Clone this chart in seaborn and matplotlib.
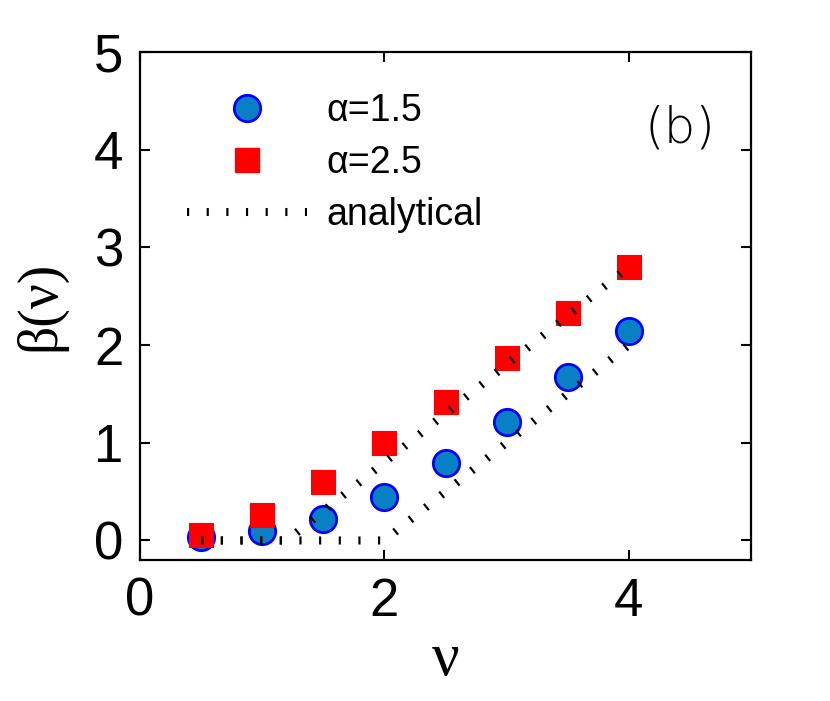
import numpy as np
import pandas as pd
import matplotlib
matplotlib.use("Agg")
import matplotlib.pyplot as plt
from matplotlib.lines import Line2D
import seaborn as sns

# data
nu = [0.5, 1.0, 1.5, 2.0, 2.5, 3.0, 3.5, 4.0]
beta_a15 = [0.04, 0.095, 0.22, 0.45, 0.79, 1.21, 1.67, 2.14]
beta_a25 = [0.06, 0.26, 0.595, 1.0, 1.42, 1.87, 2.33, 2.80]

# analytical curves (breakpoints)
nu_an15 = [0.5, 2.0, 4.0]
beta_an15 = [0.0, 0.0, 2.0]
nu_an25 = [0.5, 1.2, 4.0]
beta_an25 = [0.0, 0.0, 2.8]

sns.set_style("white")
plt.rcParams['font.family'] = ['Liberation Sans', 'DejaVu Sans']
plt.rcParams.update({"text.color": "black", "axes.labelcolor": "black",
                     "xtick.color": "black", "ytick.color": "black",
                     "xtick.direction": "in", "ytick.direction": "in",
                     "xtick.top": True, "ytick.right": True})

fig = plt.figure(figsize=(8.3, 7.01), dpi=100)
ax = fig.add_axes([0.1687, 0.2011, 0.7361, 0.7247])

circ_face = "#0a80c4"
circ_edge = "#0000ff"
sq_col = "#ff0000"

sns.scatterplot(x=nu, y=beta_a15, ax=ax, marker="o", s=360, color=circ_face,
                edgecolor=circ_edge, linewidth=2.0, zorder=3)
sns.scatterplot(x=nu, y=beta_a25, ax=ax, marker="s", s=290, color=sq_col,
                edgecolor=sq_col, linewidth=0.8, zorder=4)

dot_style = (0, (0.27, 2.17))
for xs, ys in [(nu_an15, beta_an15), (nu_an25, beta_an25)]:
    df = pd.DataFrame({"nu": xs, "beta": ys})
    sns.lineplot(data=df, x="nu", y="beta", ax=ax, sort=False, estimator=None,
                 color="black", linewidth=5.8, linestyle=dot_style,
                 dash_capstyle="butt", zorder=5)

ax.set_xlim(0, 5)
ax.set_ylim(-0.2, 5)
ax.set_xticks([0, 2, 4])
ax.set_yticks([0, 1, 2, 3, 4, 5])
ax.tick_params(axis="both", which="both", direction="in", length=7, width=1.5,
               labelsize=38, top=True, right=True, bottom=True, left=True, pad=12)
for sp in ax.spines.values():
    sp.set_linewidth(1.6)
    sp.set_color("black")

ax.set_xlabel("ν", fontsize=44, family="Liberation Serif", labelpad=4)
ax.set_ylabel("β(ν)", fontsize=40, family="Liberation Serif", labelpad=20)

ax.text(0.884, 0.85, "(b)", transform=ax.transAxes, fontsize=36,
        ha="center", va="center", family="DejaVu Sans", fontweight="light")

handles = [
    Line2D([], [], marker="o", linestyle="none", markersize=19,
           markerfacecolor=circ_face, markeredgecolor=circ_edge, markeredgewidth=2.0),
    Line2D([], [], marker="s", linestyle="none", markersize=17,
           markerfacecolor=sq_col, markeredgecolor=sq_col),
    Line2D([], [], color="black", linewidth=5.8, linestyle=dot_style,
           dash_capstyle="butt"),
]
labels = ["α=1.5", "α=2.5", "analytical"]
leg = ax.legend(handles, labels, loc="upper left", bbox_to_anchor=(0.2253, 0.867),
                bbox_transform=fig.transFigure, frameon=False, fontsize=27,
                handlelength=3.2, handletextpad=0.53, labelspacing=0.42,
                borderpad=0, borderaxespad=0)
for t in leg.get_texts():
    t.set_family(["Liberation Sans", "DejaVu Sans"])

fig.savefig("out.png", dpi=100)
